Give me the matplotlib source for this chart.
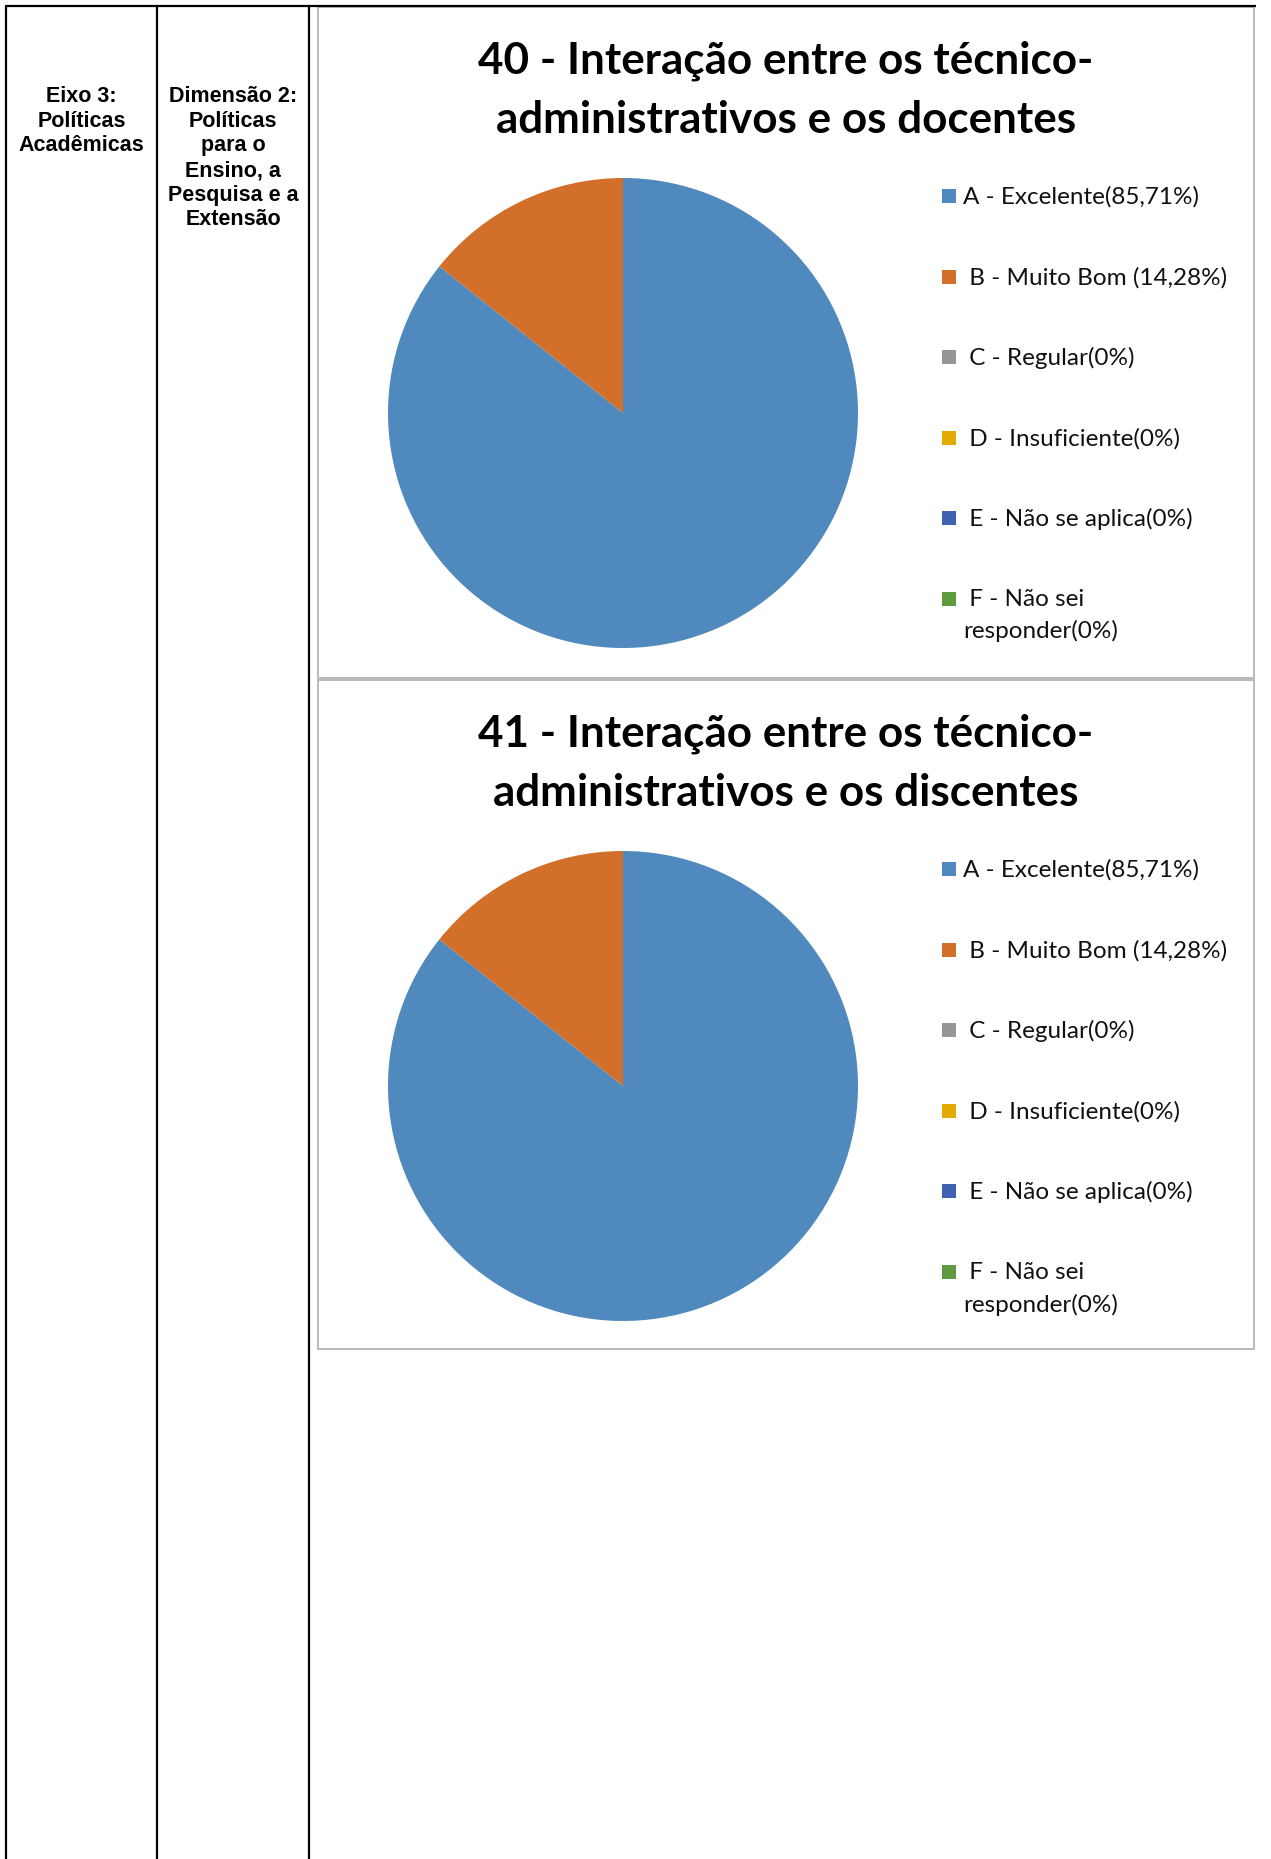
import matplotlib
matplotlib.use("Agg")
import matplotlib.pyplot as plt
from matplotlib.patches import Rectangle

# ---- data -------------------------------------------------------------
categories = ["A - Excelente(85,71%)", " B - Muito Bom (14,28%)", " C - Regular(0%)",
              " D - Insuficiente(0%)", " E - Não se aplica(0%)", " F - Não sei\nresponder(0%)"]
values_q40 = [85.71, 14.28, 0, 0, 0, 0]
values_q41 = [85.71, 14.28, 0, 0, 0, 0]
colors = ["#4F89BD", "#D2702B", "#969696", "#E3AA00", "#3D64B0", "#5E9B3F"]

title_q40 = ["40 - Interação entre os técnico-", "administrativos e os docentes"]
title_q41 = ["41 - Interação entre os técnico-", "administrativos e os discentes"]

eixo_text = "Eixo 3:\nPolíticas\nAcadêmicas"
dimensao_text = "Dimensão 2:\nPolíticas\npara o\nEnsino, a\nPesquisa e a\nExtensão"

# ---- figure -----------------------------------------------------------
W, H = 1271, 1859
DPI = 100
fig = plt.figure(figsize=(W / DPI, H / DPI), dpi=DPI)
fig.patch.set_facecolor("white")

# overlay in pixel coordinates for the table frame and the chart frames
ov = fig.add_axes([0, 0, 1, 1])
ov.set_xlim(0, W)
ov.set_ylim(H, 0)
ov.axis("off")

# table grid
for x in (6, 157, 309):
    ov.plot([x, x], [5, H + 5], color="black", lw=1.6, solid_capstyle="butt")
ov.plot([5, 1256], [6, 6], color="black", lw=1.6, solid_capstyle="butt")

# left-hand cells
cell_font = ["Liberation Sans", "DejaVu Sans"]
for cx, txt in ((81.5, eixo_text), (233, dimensao_text)):
    ov.text(cx, 86, txt, ha="center", va="top", fontsize=15.5,
            fontweight="bold", family=cell_font, linespacing=1.23)

title_font = ["Lato", "DejaVu Sans"]
legend_font = ["Lato", "DejaVu Sans"]
LEGEND_PITCH = 32  # line pitch of wrapped legend labels, px


def draw_chart(top, bottom, title_lines, values):
    # chart frame
    ov.add_patch(Rectangle((318, top), 1254 - 318, bottom - top, fill=False,
                           edgecolor="#B4B4B4", lw=1.3))
    # title
    for i, line in enumerate(title_lines):
        ov.text(786, top + 66 + i * 59.5, line, ha="center", va="baseline",
                fontsize=31.7, fontweight="bold", family=title_font)
    # pie
    r = 235
    cx, cy = 623, top + 406
    ax = fig.add_axes([(cx - r) / W, (H - (cy + r)) / H, 2 * r / W, 2 * r / H])
    ax.pie(values, colors=colors, startangle=90, counterclock=False,
           wedgeprops=dict(linewidth=0))
    ax.set_xlim(-1, 1)
    ax.set_ylim(-1, 1)
    ax.set_aspect("equal")
    ax.axis("off")
    # legend
    y0 = top + 189
    step = 80.5
    for i, (lab, col) in enumerate(zip(categories, colors)):
        y = y0 + i * step
        ov.add_patch(Rectangle((942, y - 7), 14, 14, facecolor=col, edgecolor="none"))
        extra = lab.count("\n") * LEGEND_PITCH
        ov.text(963, y + 8 + extra, lab, ha="left", va="baseline", fontsize=17.5,
                family=legend_font, color="#111111", linespacing=1.6)


draw_chart(7, 678, title_q40, values_q40)
draw_chart(680, 1349, title_q41, values_q41)

fig.savefig("out.png", dpi=DPI, facecolor="white")
